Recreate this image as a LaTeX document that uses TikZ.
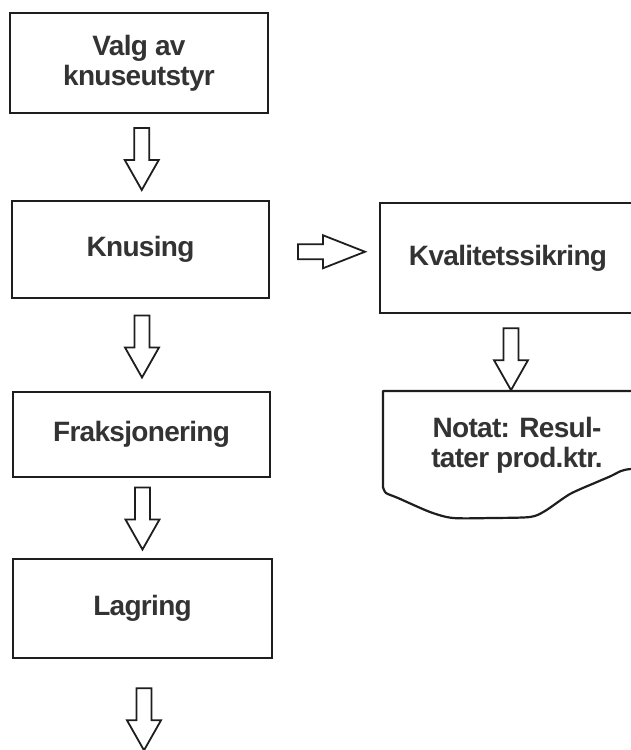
\documentclass[tikz,border=0pt]{standalone}
\usepackage{fontspec}
\setmainfont{Liberation Sans}[LetterSpace=-2.5]
\usetikzlibrary{calc}
\definecolor{ink}{HTML}{1E1E1E}
\definecolor{txt}{HTML}{333333}
\tikzset{
  box/.style={draw=ink, line width=2.6pt, rectangle, inner sep=0pt,
    font=\fontsize{28}{30}\selectfont\bfseries, text=txt, align=center},
  lbl/.style={inner sep=0pt, font=\fontsize{28}{30}\selectfont\bfseries, text=txt, align=center},
  blk/.style={draw=ink, line width=1.8pt, fill=white, line join=miter},
  downarrow/.pic={
    \draw[blk] (-7.5,-31) -- (7.5,-31) -- (7.5,1) -- (17,1) -- (0,31) -- (-17,1) -- (-7.5,1) -- cycle;
  },
  rightarrow/.pic={
    \draw[blk] (-33.5,-7.5) -- (-8.5,-7.5) -- (-8.5,-16.5) -- (33.5,0) -- (-8.5,16.5) -- (-8.5,7.5) -- (-33.5,7.5) -- cycle;
  }
}
\begin{document}
\begin{tikzpicture}[x=1pt,y=-1pt]
\clip (0,0) rectangle (631,750);
\fill[white] (0,0) rectangle (631,750);

\node[box, minimum width=258pt, minimum height=100pt] (b1) at (139,63) {Valg av\\knuseutstyr};
\node[box, minimum width=257pt, minimum height=97pt] (b2) at (140.5,249.5) {Knusing};
\node[box, minimum width=257pt, minimum height=85pt] (b3) at (141.5,434.5) {Fraksjonering};
\node[box, minimum width=259pt, minimum height=99pt] (b4) at (142.5,608.5) {Lagring};
\node[box, minimum width=256pt, minimum height=110pt] (kval) at (508,258) {Kvalitetssikring};

% document shape (Notat)
\draw[ink, line width=2.2pt, line join=round]
  (660,391) -- (383,391) -- (383,487)
  plot[smooth, tension=0.45] coordinates {(383,487) (386,493) (398,498) (430,512) (453,518) (492,518) (530,517) (545,511) (570,494) (597,482) (611,476) (621,471) (631,469) (660,468)};
\node[lbl] (notat) at (517,445) {Notat: Resul-\\tater prod.ktr.};
\coordinate (ntop) at (511,391);

% block arrows
\pic at ($(b1.south)!0.5!(b2.north)+(2,2)$) {downarrow};
\pic at ($(b2.south)!0.5!(b3.north)+(1,1.5)$) {downarrow};
\pic at ($(b3.south)!0.5!(b4.north)+(0.5,0.5)$) {downarrow};
\pic at ($(b4.south)+(1.5,60)$) {downarrow};
\pic at ($(kval.south)!0.5!(ntop)+(1.5,6.5)$) {downarrow};
\pic at ($(b2.east)!0.5!(kval.west)+(7,-2)$) {rightarrow};
\end{tikzpicture}
\end{document}
